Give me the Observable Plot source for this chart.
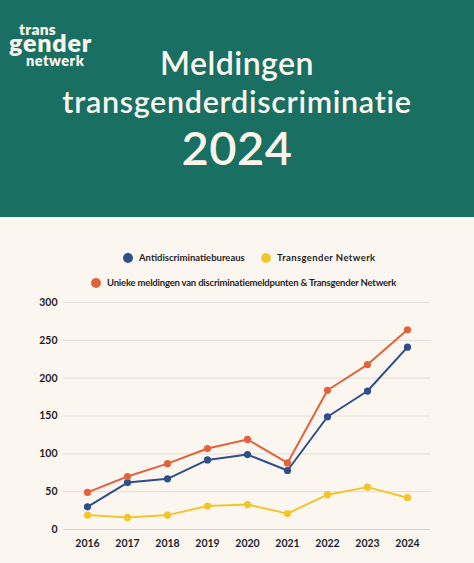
<!DOCTYPE html>
<html>
<head>
<meta charset="utf-8">
<script src="https://cdn.jsdelivr.net/npm/d3@7"></script>
<script src="https://cdn.jsdelivr.net/npm/@observablehq/plot@0.6"></script>
<style>
  html, body { margin: 0; padding: 0; background: #fcf6f1; }
  body { width: 474px; height: 563px; overflow: hidden; font-family: Lato, "Noto Sans", sans-serif; }
  #header { position: relative; width: 474px; height: 217px; background: #186f62; color: #fbf4ec; }
  #header .logo { position: absolute; font-weight: 800; line-height: 0.72; letter-spacing: 0.3px; }
  #header .t { position: absolute; left: 0; width: 474px; text-align: center; font-weight: 600; line-height: 1; }
  #legend { position: relative; height: 73px; font-size: 9.5px; font-weight: 700; color: #1f1f1f; }
  .item { position: absolute; display: flex; align-items: center; white-space: nowrap; }
  .dot { width: 10px; height: 10px; border-radius: 50%; margin-right: 6px; }
  #chart { position: absolute; top: 290px; left: 0; }
</style>
</head>
<body>
<div id="header">
  <div class="logo" style="left:19px;top:24px;font-size:15.5px;">trans</div>
  <div class="logo" style="left:9px;top:33px;font-size:25px;letter-spacing:0.8px;">gender</div>
  <div class="logo" style="left:26px;top:56px;font-size:14.5px;letter-spacing:0.5px;">netwerk</div>
  <div class="t" style="top:47px;font-size:32px;letter-spacing:0.5px;">Meldingen</div>
  <div class="t" style="top:86px;font-size:30.5px;letter-spacing:0.7px;">transgenderdiscriminatie</div>
  <div class="t" style="top:124px;font-size:47px;letter-spacing:0.5px;">2024</div>
</div>
<div id="legend"></div>
<div id="chart"></div>
<script>
const years = [2016, 2017, 2018, 2019, 2020, 2021, 2022, 2023, 2024];
const antidiscriminatie = [30, 62, 67, 92, 99, 78, 149, 183, 241];
const transgenderNetwerk = [19, 16, 19, 31, 33, 21, 46, 56, 42];
const uniek = [49, 70, 87, 107, 119, 88, 184, 218, 264];
const seriesNames = ["Antidiscriminatiebureaus", "Transgender Netwerk", "Unieke meldingen van discriminatiemeldpunten & Transgender Netwerk"];
const seriesColors = ["#2f4e8a", "#f2c62a", "#e2633b"];
const yTicks = [0, 50, 100, 150, 200, 250, 300];

// legend
const legend = document.getElementById("legend");
const legendPos = [
  {left: 123, top: 41, ls: 0},
  {left: 261, top: 41, ls: 0.4},
  {left: 91, top: 66, ls: -0.2}
];
seriesNames.forEach((n, i) => {
  const d = document.createElement("div");
  d.className = "item";
  d.style.left = legendPos[i].left + "px";
  d.style.top = (legendPos[i].top - 6) + "px";
  d.style.letterSpacing = legendPos[i].ls + "px";
  d.innerHTML = `<span class="dot" style="background:${seriesColors[i]}"></span><span>${n}</span>`;
  legend.appendChild(d);
});

const data = [];
[antidiscriminatie, transgenderNetwerk, uniek].forEach((arr, s) => {
  arr.forEach((v, i) => data.push({year: String(years[i]), value: v, series: seriesNames[s]}));
});

const chart = Plot.plot({
  width: 474,
  height: 273,
  marginLeft: 63,
  marginRight: 44,
  marginTop: 12,
  marginBottom: 34,
  style: {background: "transparent", fontFamily: "Lato, 'Noto Sans', sans-serif", fontSize: "10.5px", fontWeight: 700, color: "#1f1f1f"},
  x: {type: "point", domain: years.map(String), padding: 0.5, label: null, tickSize: 0, tickPadding: 10},
  y: {domain: [0, 300], ticks: yTicks, label: null, tickSize: 0, tickPadding: 6},
  color: {domain: seriesNames, range: seriesColors},
  marks: [
    Plot.gridY(yTicks.filter(t => t > 0), {stroke: "#e6e0da", strokeOpacity: 1, strokeWidth: 1.2}),
    Plot.ruleY([0], {stroke: "#d9d3cd", strokeWidth: 1.2}),
    Plot.axisY({ticks: yTicks, tickSize: 0, tickPadding: 6, label: null}),
    Plot.axisX({tickSize: 0, tickPadding: 10, label: null}),
    Plot.line(data, {x: "year", y: "value", z: "series", stroke: "series", strokeWidth: 2}),
    Plot.dot(data, {x: "year", y: "value", fill: "series", r: 3.6})
  ]
});
document.getElementById("chart").appendChild(chart);
</script>
</body>
</html>
